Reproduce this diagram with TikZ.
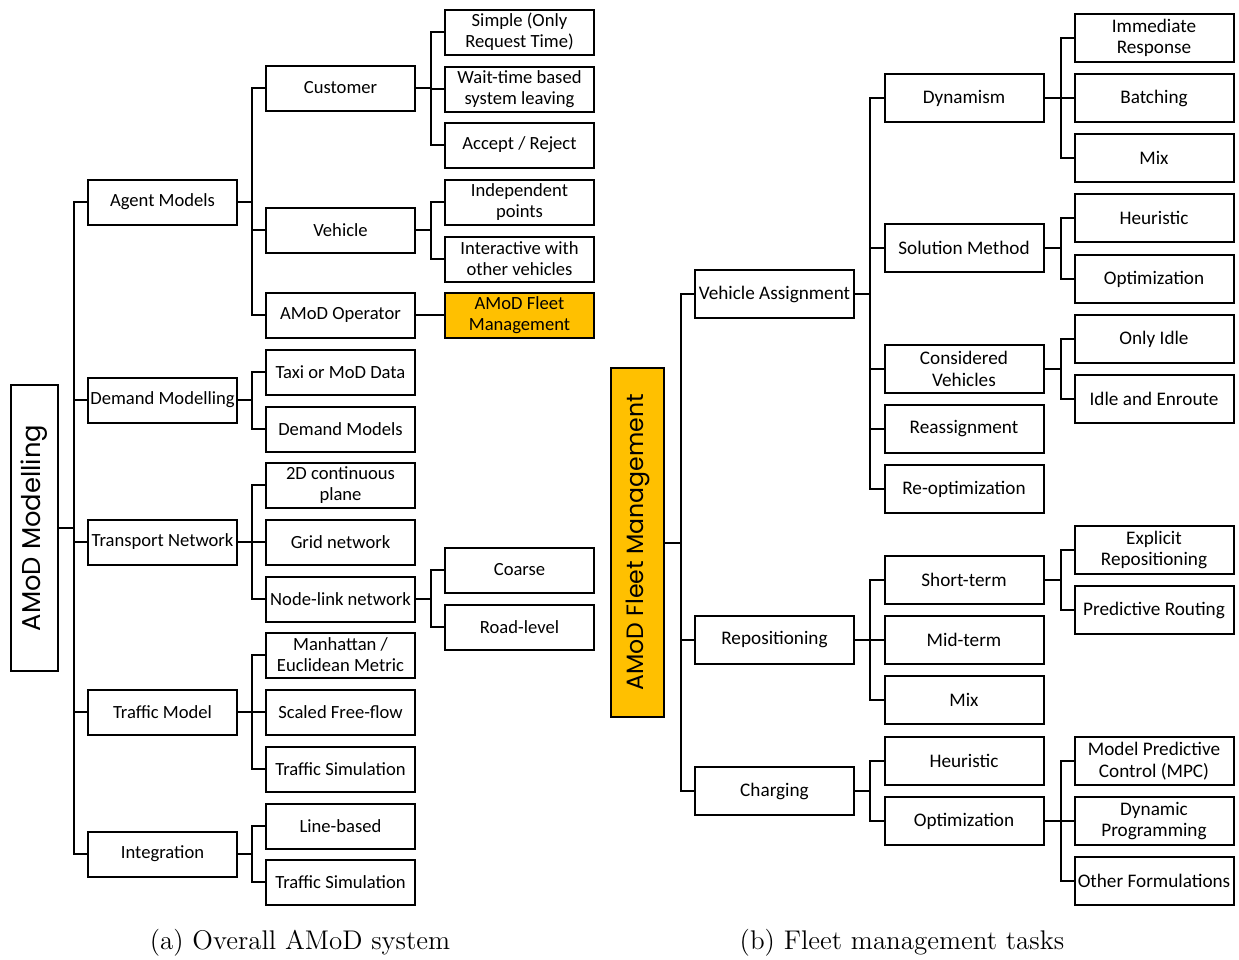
\documentclass[tikz,border=0pt]{standalone}
\usepackage{fontspec}
\newfontfamily\boxfont{Carlito}
\newfontfamily\rootfont{Poppins}
\definecolor{amodgold}{HTML}{FFC000}
\newcommand\linkto[3]{\draw[link] (#1.east) -- ++(#3,0) |- (#2.west);}
\begin{document}
\begin{tikzpicture}[x=0.5pt,y=-0.5pt,
  lbox/.style={draw, line width=1pt, minimum width=74.5pt, minimum height=22.5pt,
    inner sep=0pt, align=center, font=\boxfont\fontsize{9.3}{10.6}\selectfont},
  rbox/.style={draw, line width=1pt, minimum width=79.5pt, minimum height=24pt,
    inner sep=0pt, align=center, font=\boxfont\fontsize{9.6}{10.8}\selectfont},
  gold/.style={fill=amodgold},
  rootbox/.style={draw, line width=1pt, rotate=90, inner sep=0pt},
  link/.style={line width=1pt},
  capt/.style={font=\fontsize{13.5}{15}\selectfont}]
\useasboundingbox (0,0) rectangle (1239,960);

% ---------- left panel ----------
\node[rootbox, minimum width=143pt, minimum height=23.5pt,
  font=\rootfont\fontsize{12.9}{15}\selectfont] (L) at (34.5,528) {AMoD Modelling};

\node[lbox] (A1) at (162.5,202) {Agent Models};
\node[lbox] (A2) at (162.5,400) {Demand Modelling};
\node[lbox] (A3) at (162.5,542) {Transport Network};
\node[lbox] (A4) at (162.5,712) {Traffic Model};
\node[lbox] (A5) at (162.5,854) {Integration};

\node[lbox] (B1) at (340.5,88) {Customer};
\node[lbox] (B2) at (340.5,230) {Vehicle};
\node[lbox] (B3) at (340.5,315) {AMoD Operator};
\node[lbox] (B4) at (340.5,372) {Taxi or MoD Data};
\node[lbox] (B5) at (340.5,429) {Demand Models};
\node[lbox] (B6) at (340.5,485) {2D continuous\\plane};
\node[lbox] (B7) at (340.5,542) {Grid network};
\node[lbox] (B8) at (340.5,599) {Node-link network};
\node[lbox] (B9) at (340.5,655) {Manhattan /\\Euclidean Metric};
\node[lbox] (B10) at (340.5,712) {Scaled Free-flow};
\node[lbox] (B11) at (340.5,769) {Traffic Simulation};
\node[lbox] (B12) at (340.5,826) {Line-based};
\node[lbox] (B13) at (340.5,882) {Traffic Simulation};

\node[lbox] (C1) at (519.5,32) {Simple (Only\\Request Time)};
\node[lbox] (C2) at (519.5,89) {Wait-time based\\system leaving};
\node[lbox] (C3) at (519.5,145) {Accept / Reject};
\node[lbox] (C4) at (519.5,202) {Independent\\points};
\node[lbox] (C5) at (519.5,259) {Interactive with\\other vehicles};
\node[lbox, gold] (C6) at (519.5,315) {AMoD Fleet\\Management};
\node[lbox] (C7) at (519.5,570) {Coarse};
\node[lbox] (C8) at (519.5,627) {Road-level};

\draw[link] (L.south) -- ++(15,0) coordinate (Lt);
\foreach \c in {A1,A2,A3,A4,A5} {\draw[link] (Lt) |- (\c.west);}
\foreach \c in {B1,B2,B3} {\linkto{A1}{\c}{14}}
\foreach \c in {B4,B5} {\linkto{A2}{\c}{14}}
\foreach \c in {B6,B7,B8} {\linkto{A3}{\c}{14}}
\foreach \c in {B9,B10,B11} {\linkto{A4}{\c}{14}}
\foreach \c in {B12,B13} {\linkto{A5}{\c}{14}}
\foreach \c in {C1,C2,C3} {\linkto{B1}{\c}{15}}
\foreach \c in {C4,C5} {\linkto{B2}{\c}{15}}
\linkto{B3}{C6}{15}
\foreach \c in {C7,C8} {\linkto{B8}{\c}{15}}

% ---------- right panel ----------
\node[rootbox, gold, minimum width=174.5pt, minimum height=26.5pt,
  font=\rootfont\fontsize{11.8}{14}\selectfont] (R) at (637.5,542.5) {AMoD Fleet Management};

\node[rbox] (D1) at (774.5,294) {Vehicle Assignment};
\node[rbox] (D2) at (774.5,640) {Repositioning};
\node[rbox] (D3) at (774.5,791) {Charging};

\node[rbox] (E1) at (964,98) {Dynamism};
\node[rbox] (E2) at (964,248) {Solution Method};
\node[rbox] (E3) at (964,369) {Considered\\Vehicles};
\node[rbox] (E4) at (964,429) {Reassignment};
\node[rbox] (E5) at (964,489) {Re-optimization};
\node[rbox] (E6) at (964,580) {Short-term};
\node[rbox] (E7) at (964,640) {Mid-term};
\node[rbox] (E8) at (964,700) {Mix};
\node[rbox] (E9) at (964,761) {Heuristic};
\node[rbox] (E10) at (964,821) {Optimization};

\node[rbox] (F1) at (1154,38) {Immediate\\Response};
\node[rbox] (F2) at (1154,98) {Batching};
\node[rbox] (F3) at (1154,158) {Mix};
\node[rbox] (F4) at (1154,218) {Heuristic};
\node[rbox] (F5) at (1154,279) {Optimization};
\node[rbox] (F6) at (1154,339) {Only Idle};
\node[rbox] (F7) at (1154,399) {Idle and Enroute};
\node[rbox] (F8) at (1154,550) {Explicit\\Repositioning};
\node[rbox] (F9) at (1154,610) {Predictive Routing};
\node[rbox] (F10) at (1154,761) {Model Predictive\\Control (MPC)};
\node[rbox] (F11) at (1154,821) {Dynamic\\Programming};
\node[rbox] (F12) at (1154,881) {Other Formulations};

\draw[link] (R.south) -- ++(16,0) coordinate (Rt);
\foreach \c in {D1,D2,D3} {\draw[link] (Rt) |- (\c.west);}
\foreach \c in {E1,E2,E3,E4,E5} {\linkto{D1}{\c}{15}}
\foreach \c in {E6,E7,E8} {\linkto{D2}{\c}{15}}
\foreach \c in {E9,E10} {\linkto{D3}{\c}{15}}
\foreach \c in {F1,F2,F3} {\linkto{E1}{\c}{16}}
\foreach \c in {F4,F5} {\linkto{E2}{\c}{16}}
\foreach \c in {F6,F7} {\linkto{E3}{\c}{16}}
\foreach \c in {F8,F9} {\linkto{E6}{\c}{16}}
\foreach \c in {F10,F11,F12} {\linkto{E10}{\c}{16}}

% ---------- captions ----------
\node[capt] (capa) at (300,943) {(a) Overall AMoD system};
\node[capt] (capb) at (902,943) {(b) Fleet management tasks};
\end{tikzpicture}
\end{document}
